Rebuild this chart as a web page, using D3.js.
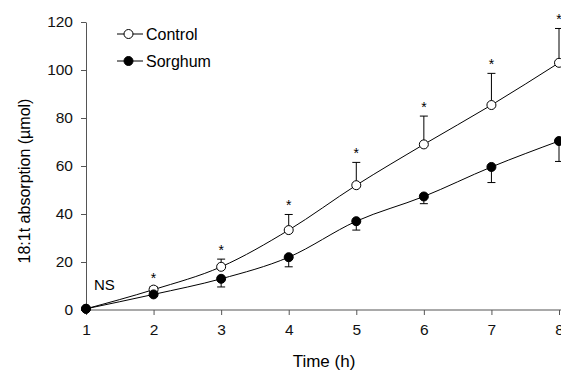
<!DOCTYPE html>
<html>
  <head>
    <script src="https://cdn.jsdelivr.net/npm/d3@7"></script>
    <style>
      body { margin: 0; background: #fff; }
      text { font-family: "Liberation Sans", Arial, sans-serif; }
    </style>
  </head>
  <body>
    <div id="chart"></div>
    <script type="text/javascript">
      var hours = [1, 2, 3, 4, 5, 6, 7, 8],
          control = [0.5, 8.5, 18, 33.3, 52, 69, 85.4, 103],
          controlErr = [0, 1.2, 3.2, 6.5, 9.5, 11.8, 13.2, 14.3],
          sorghum = [0.5, 6.5, 13, 22, 37, 47.3, 59.6, 70.4],
          sorghumErr = [0, 0.8, 3.4, 4, 3.7, 3, 6.5, 8.5],
          stars = [false, true, true, true, true, true, true, true],
          yTicks = [0, 20, 40, 60, 80, 100, 120];

      var width = 561, height = 370,
          margin = {left: 86, top: 22, right: 2, bottom: 60};

      var svg = d3.select("#chart").append("svg")
          .attr("width", width)
          .attr("height", height);

      var x = d3.scaleLinear().domain([1, 8]).range([margin.left, 559]);
      var y = d3.scaleLinear().domain([0, 120]).range([height - margin.bottom, margin.top]);

      var xAxis = svg.append("g")
          .attr("transform", "translate(0," + y(0) + ")")
          .call(d3.axisBottom(x).tickValues(hours).tickFormat(d3.format("d")).tickSize(5).tickSizeOuter(0));
      xAxis.select(".domain").attr("d", "M" + margin.left + ",0H" + width);

      var yAxis = svg.append("g")
          .attr("transform", "translate(" + margin.left + ",0)")
          .call(d3.axisLeft(y).tickValues(yTicks).tickSize(5).tickSizeOuter(0));

      svg.selectAll(".tick text").style("font-size", "15.5px").attr("fill", "#111");
      xAxis.selectAll(".tick text").attr("y", 10).attr("dy", "0.95em");
      yAxis.selectAll(".tick text").attr("x", -13);
      svg.selectAll(".domain, .tick line").attr("stroke", "#555");

      var line = d3.line()
          .x(function(d, i) { return x(hours[i]); })
          .y(function(d) { return y(d); })
          .curve(d3.curveMonotoneX);

      // error bars: control up, sorghum down
      function errorBars(vals, errs, dir) {
        var g = svg.append("g").attr("stroke", "#000").attr("stroke-width", 1);
        vals.forEach(function(v, i) {
          if (!errs[i]) return;
          var e = v + dir * errs[i];
          g.append("line").attr("x1", x(hours[i])).attr("x2", x(hours[i]))
            .attr("y1", y(v)).attr("y2", y(e));
          g.append("line").attr("x1", x(hours[i]) - 4).attr("x2", x(hours[i]) + 4)
            .attr("y1", y(e)).attr("y2", y(e));
        });
      }
      errorBars(control, controlErr, 1);
      errorBars(sorghum, sorghumErr, -1);

      svg.append("path").datum(control).attr("d", line)
          .attr("fill", "none").attr("stroke", "#000").attr("stroke-width", 1);
      svg.append("path").datum(sorghum).attr("d", line)
          .attr("fill", "none").attr("stroke", "#000").attr("stroke-width", 1);

      svg.selectAll(".ctrl").data(control).enter().append("circle")
          .attr("cx", function(d, i) { return x(hours[i]); })
          .attr("cy", function(d) { return y(d); })
          .attr("r", 4.5).attr("fill", "#fff").attr("stroke", "#000");
      svg.selectAll(".sorg").data(sorghum).enter().append("circle")
          .attr("cx", function(d, i) { return x(hours[i]); })
          .attr("cy", function(d) { return y(d); })
          .attr("r", 4.5).attr("fill", "#000").attr("stroke", "#000");

      var starData = hours.map(function(h, i) { return {h: h, top: control[i] + controlErr[i], on: stars[i]}; })
          .filter(function(d) { return d.on; });
      svg.selectAll(".star").data(starData).enter().append("text")
          .attr("x", function(d) { return x(d.h); })
          .attr("y", function(d) { return y(d.top) - 4; })
          .attr("text-anchor", "middle")
          .style("font-size", "14px")
          .text("*");

      svg.append("text").attr("x", 94).attr("y", 290).style("font-size", "15px").text("NS");

      // legend
      var legend = [{name: "Control", fill: "#fff", y: 34}, {name: "Sorghum", fill: "#000", y: 61}];
      var lg = svg.selectAll(".legend").data(legend).enter().append("g");
      lg.append("line").attr("x1", 117).attr("x2", 143)
          .attr("y1", function(d) { return d.y; }).attr("y2", function(d) { return d.y; })
          .attr("stroke", "#000");
      lg.append("circle").attr("cx", 128.5).attr("cy", function(d) { return d.y; })
          .attr("r", 4.5).attr("fill", function(d) { return d.fill; }).attr("stroke", "#000");
      lg.append("text").attr("x", 146).attr("y", function(d) { return d.y + 5.5; })
          .style("font-size", "16px").text(function(d) { return d.name; });

      svg.append("text")
          .attr("transform", "translate(30,181) rotate(-90)")
          .attr("text-anchor", "middle")
          .style("font-size", "16px")
          .text("18:1t absorption (µmol)");

      svg.append("text")
          .attr("x", 324).attr("y", 367)
          .attr("text-anchor", "middle")
          .style("font-size", "17px")
          .text("Time (h)");
    </script>
  </body>
</html>
